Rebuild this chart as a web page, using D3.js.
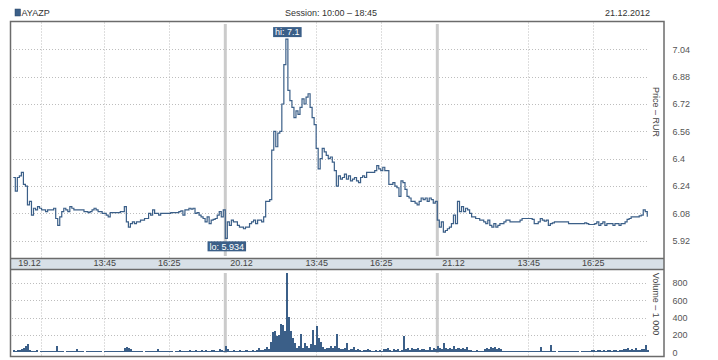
<!DOCTYPE html>
<html><head><meta charset="utf-8">
<script src="https://cdn.jsdelivr.net/npm/d3@7"></script>
<style>
body{margin:0;background:#fff;}
svg text{font-family:"Liberation Sans",Arial,sans-serif;font-size:9px;}
</style></head><body><svg id="c" width="718" height="360"></svg>
<script>
// ---------- data ----------
const ticker = "AYAZP";
const sessionLabel = "Session: 10:00 – 18:45";
const dateLabel = "21.12.2012";
const days = ["19.12", "20.12", "21.12"];
const sessionOpen = "10:00";
const sessionClose = "18:45";
const barMinutes = 5;
const timeTicks = ["13:45", "16:25"];
const extraGridDay1 = ["11:08"];
const priceTicks = [5.92, 6.08, 6.24, 6.4, 6.56, 6.72, 6.88, 7.04];
const volumeTicks = [0, 200, 400, 600, 800];
const priceTitle = "Price – RUR";
const volumeTitle = "Volume – 1 000";

const priceDay1 = [
 6.29,6.21,6.29,6.30,6.32,6.25,6.24,6.13,6.15,6.07,
 6.11,6.10,6.12,6.11,6.10,6.10,6.09,6.10,6.10,6.10,
 6.11,6.05,6.01,6.06,6.09,6.11,6.10,6.09,6.12,6.11,
 6.10,6.10,6.10,6.10,6.10,6.09,6.09,6.085,6.09,6.10,
 6.11,6.10,6.09,6.09,6.08,6.08,6.07,6.06,6.085,6.085,
 6.085,6.085,6.085,6.09,6.09,6.12,6.03,6.00,6.02,6.03,
 6.02,6.03,6.03,6.04,6.04,6.05,6.05,6.08,6.07,6.10,
 6.08,6.08,6.07,6.08,6.08,6.08,6.08,6.08,6.084,6.084,
 6.084,6.084,6.09,6.095,6.07,6.10,6.10,6.11,6.105,6.11,
 6.08,6.085,6.07,6.06,6.05,6.03,6.06,6.02,6.04,6.045,
 6.05,6.07,6.09,6.06,6.10];
const priceDay2 = [
 5.934,6.03,6.01,6.04,6.03,6.03,6.01,6.00,6.00,5.99,
 6.00,6.00,6.02,6.03,6.04,6.02,6.04,6.04,6.03,6.06,
 6.15,6.15,6.16,6.45,6.56,6.47,6.55,6.56,6.72,6.95,
 7.10,6.80,6.74,6.70,6.64,6.68,6.66,6.70,6.75,6.72,
 6.76,6.78,6.70,6.64,6.60,6.46,6.34,6.40,6.46,6.44,
 6.42,6.40,6.41,6.38,6.33,6.24,6.30,6.28,6.29,6.31,
 6.28,6.30,6.27,6.28,6.29,6.27,6.26,6.29,6.30,6.29,
 6.32,6.32,6.32,6.32,6.33,6.36,6.34,6.33,6.35,6.33,
 6.33,6.25,6.25,6.26,6.24,6.23,6.18,6.27,6.26,6.22,
 6.18,6.17,6.15,6.15,6.14,6.13,6.15,6.17,6.16,6.17,
 6.15,6.17,6.16,6.14,6.15];
const priceDay3 = [
 6.04,6.00,6.03,5.97,5.98,5.99,6.00,6.02,6.07,6.02,
 6.15,6.09,6.12,6.09,6.11,6.10,6.08,6.06,6.06,6.05,
 6.05,6.04,6.04,6.03,6.02,6.04,6.01,6.00,6.02,6.00,
 6.01,6.02,6.02,6.03,6.04,6.04,6.03,6.03,6.03,6.03,
 6.03,6.04,6.05,6.05,6.05,6.05,6.05,6.045,6.02,6.02,
 6.03,6.05,6.04,6.035,6.04,6.01,6.02,6.025,6.03,6.03,
 6.03,6.03,6.03,6.03,6.03,6.02,6.02,6.02,6.02,6.02,
 6.02,6.02,6.02,6.025,6.02,6.015,6.015,6.015,6.02,6.03,
 6.01,6.02,6.03,6.01,6.02,6.02,6.02,6.01,6.02,6.02,
 6.01,6.02,6.02,6.03,6.045,6.05,6.06,6.06,6.06,6.06,
 6.065,6.07,6.10,6.09,6.06];

const volumeDay1 = [
 25,20,30,25,35,45,70,95,30,
 20,18,22,0,15,20,18,20,15,20,18,20,
 75,
 20,15,18,0,20,15,18,20,15,
 42,
 18,15,20,0,15,18,20,15,18,20,15,18,0,20,15,18,20,15,18,20,15,18,20,
 45,65,50,40,
 18,20,15,18,20,0,18,15,20,18,15,20,
 40,
 18,20,15,18,20,15,18,0,20,15,25,20,18,15,20,22,18,20,25,20,18,22,20,25,18,20,22,25,20,18,
 40,
 25,20];
const volumeDay2 = [
 75,40,
 20,18,25,20,15,22,20,18,25,20,18,22,20,25,
 45,
 25,30,35,
 61,34,
 120,235,245,187,205,328,320,250,910,404,250,168,110,53,75,213,50,110,70,50,100,263,80,300,170,122,60,40,55,45,70,50,70,206,55,35,40,45,110,25,35,60,25,35,
 25,20,30,22,40,25,20,18,25,20,22,18,40,35,45,30,20,40,25,38,20,25,
 187,
 35,45,30,50,40,35,45,30,40,35,30,25,65,30,45,40];
const volumeDay3 = [
 70,45,40,
 103,
 45,40,45,35,
 72,
 40,45,35,50,40,65,
 30,25,20,18,25,20,18,20,
 40,55,35,60,45,65,40,50,35,
 20,18,15,20,18,15,20,15,18,20,15,18,20,15,18,20,15,18,20,
 57,
 20,15,18,20,
 84,
 15,18,0,15,20,15,12,18,15,20,15,12,18,0,15,20,18,15,20,25,22,20,25,22,20,25,20,22,25,20,22,25,
 20,25,22,40,35,45,30,40,25,45,30,25,35,
 40,84,30];

// ---------- helpers ----------
const toMin = s => { const [h, m] = s.split(":").map(Number); return h * 60 + m; };
const dayLen = toMin(sessionClose) - toMin(sessionOpen);
const prices = [priceDay1, priceDay2, priceDay3];
const volumes = [volumeDay1, volumeDay2, volumeDay3];
const priceData = [], volData = [];
prices.forEach((arr, d) => arr.forEach((p, i) => priceData.push({t: d * dayLen + i * barMinutes, v: p})));
volumes.forEach((arr, d) => arr.forEach((v, i) => volData.push({t: d * dayLen + i * barMinutes, v: v})));

// ---------- layout ----------
const svg = d3.select("#c");
const L = 10.5, R = 664, T = 21.5, PB = 258.5, BB = 269.5, B = 356.5;
const blue = "#3b5f88";

const x = d3.scaleLinear().domain([0, days.length * dayLen]).range([13.3, 649.3]);
const yP = d3.scaleLinear().domain([5.816, 7.2]).range([PB, T + 0.5]);
const yV = d3.scaleLinear().domain([0, 950]).range([352.3, 270]);
const barW = x(barMinutes) - x(0);

// header
svg.append("rect").attr("x", 15).attr("y", 9).attr("width", 5.5).attr("height", 7)
  .attr("fill", blue).attr("stroke", "#2a4566").attr("stroke-width", 0.5);
svg.append("text").attr("x", 21.5).attr("y", 16).attr("fill", "#333").text(ticker);
svg.append("text").attr("x", 331).attr("y", 16).attr("text-anchor", "middle").attr("fill", "#333").text(sessionLabel);
svg.append("text").attr("x", 650).attr("y", 16).attr("text-anchor", "end").attr("fill", "#333").text(dateLabel);

// x-band
svg.append("rect").attr("x", L).attr("y", PB).attr("width", R - L).attr("height", BB - PB)
  .attr("fill", "#d8e0e7");

// grid positions
const gridTs = [];
days.forEach((d, di) => {
  timeTicks.forEach(tt => gridTs.push(di * dayLen + toMin(tt) - toMin(sessionOpen)));
});
extraGridDay1.forEach(tt => gridTs.push(toMin(tt) - toMin(sessionOpen)));
const sepTs = days.slice(1).map((d, i) => (i + 1) * dayLen);

const grid = svg.append("g").attr("stroke", "#bdbdbd").attr("stroke-dasharray", "1,2").attr("stroke-width", 1);
gridTs.forEach(t => {
  const gx = Math.round(x(t)) + 0.5;
  grid.append("line").attr("x1", gx).attr("x2", gx).attr("y1", T + 1).attr("y2", PB);
  grid.append("line").attr("x1", gx).attr("x2", gx).attr("y1", BB + 1).attr("y2", B);
});
priceTicks.forEach(p => {
  const gy = Math.round(yP(p)) + 0.5;
  grid.append("line").attr("x1", 13).attr("x2", 649).attr("y1", gy).attr("y2", gy);
});
volumeTicks.filter(v => v > 0).forEach(v => {
  const gy = Math.round(yV(v)) + 0.5;
  grid.append("line").attr("x1", 12).attr("x2", 648).attr("y1", gy).attr("y2", gy);
});

// day separators
sepTs.forEach(t => {
  svg.append("rect").attr("x", x(t) - 1.5).attr("width", 3).attr("y", 24).attr("height", 232).attr("fill", "#cbcbcb");
  svg.append("rect").attr("x", x(t) - 1.5).attr("width", 3).attr("y", 273).attr("height", 80).attr("fill", "#cbcbcb");
});

// volume bars
svg.append("g").selectAll("rect").data(volData.filter(d => d.v > 0)).join("rect")
  .attr("x", d => x(d.t)).attr("width", barW)
  .attr("y", d => yV(d.v)).attr("height", d => yV(0) - yV(d.v))
  .attr("fill", blue).attr("shape-rendering", "crispEdges");

// price line
const line = d3.line().x(d => x(d.t)).y(d => yP(d.v)).curve(d3.curveStepAfter);
svg.append("path").datum(priceData).attr("d", line)
  .attr("fill", "none").attr("stroke", blue).attr("stroke-width", 1.2).attr("stroke-linejoin", "miter");

// hi / lo labels
const hi = priceData.reduce((a, b) => b.v > a.v ? b : a);
const lo = priceData.reduce((a, b) => b.v < a.v ? b : a);
function tag(d, txt, above) {
  const g = svg.append("g");
  const t = g.append("text").attr("fill", "#fff").attr("text-anchor", "middle").text(txt);
  const w = t.node().getComputedTextLength() + 4;
  const cx = x(d.t) + 1.5;
  const h = 10;
  const top = above ? yP(d.v) - 2 - h : yP(d.v) + 3;
  g.insert("rect", "text").attr("x", cx - w / 2).attr("y", top).attr("width", w).attr("height", h).attr("fill", blue);
  t.attr("x", cx).attr("y", top + 8.3);
}
tag(hi, "hi: " + hi.v, true);
tag(lo, "lo: " + lo.v, false);

// frame
svg.append("rect").attr("x", L).attr("y", T).attr("width", R - L).attr("height", B - T)
  .attr("fill", "none").attr("stroke", "#6b6b6b").attr("stroke-width", 1.5);
svg.append("line").attr("x1", L).attr("x2", R).attr("y1", PB).attr("y2", PB).attr("stroke", "#6b6b6b").attr("stroke-width", 1.5);
svg.append("line").attr("x1", L).attr("x2", R).attr("y1", BB).attr("y2", BB).attr("stroke", "#6b6b6b").attr("stroke-width", 1.5);

// x axis labels
const xLabels = [];
days.forEach((d, di) => {
  xLabels.push({t: di * dayLen, label: d, anchor: "start", dx: 4.5});
  timeTicks.forEach(tt => xLabels.push({t: di * dayLen + toMin(tt) - toMin(sessionOpen), label: tt, anchor: "middle", dx: 0}));
});
const xAxis = d3.axisBottom(x).tickValues(xLabels.map(d => d.t))
  .tickFormat((t, i) => xLabels[i].label).tickSize(0).tickPadding(1.5);
const gx = svg.append("g").attr("transform", `translate(0,${PB})`).call(xAxis);
gx.select(".domain").remove();
gx.selectAll("text").attr("fill", "#444").style("font-size", "9px")
  .attr("text-anchor", (t, i) => xLabels[i].anchor).attr("dx", (t, i) => xLabels[i].dx);

// y axes
const ayP = d3.axisRight(yP).tickValues(priceTicks).tickFormat(d => String(d)).tickSize(0).tickPadding(0);
const gp = svg.append("g").attr("transform", "translate(672.5,0)").call(ayP);
gp.select(".domain").remove();
gp.selectAll("text").attr("fill", "#555").style("font-size", "9px");
const ayV = d3.axisRight(yV).tickValues(volumeTicks).tickFormat(d => String(d)).tickSize(0).tickPadding(0);
const gv = svg.append("g").attr("transform", "translate(672.5,0)").call(ayV);
gv.select(".domain").remove();
gv.selectAll("text").attr("fill", "#555").style("font-size", "9px");
svg.selectAll(".tick text").style("font-family", "'Liberation Sans',Arial,sans-serif");

// axis titles
svg.append("text").attr("transform", "translate(653,112) rotate(90)").attr("text-anchor", "middle")
  .attr("fill", "#444").text(priceTitle);
svg.append("text").attr("transform", "translate(653,304) rotate(90)").attr("text-anchor", "middle")
  .attr("fill", "#444").text(volumeTitle);
</script></body></html>
